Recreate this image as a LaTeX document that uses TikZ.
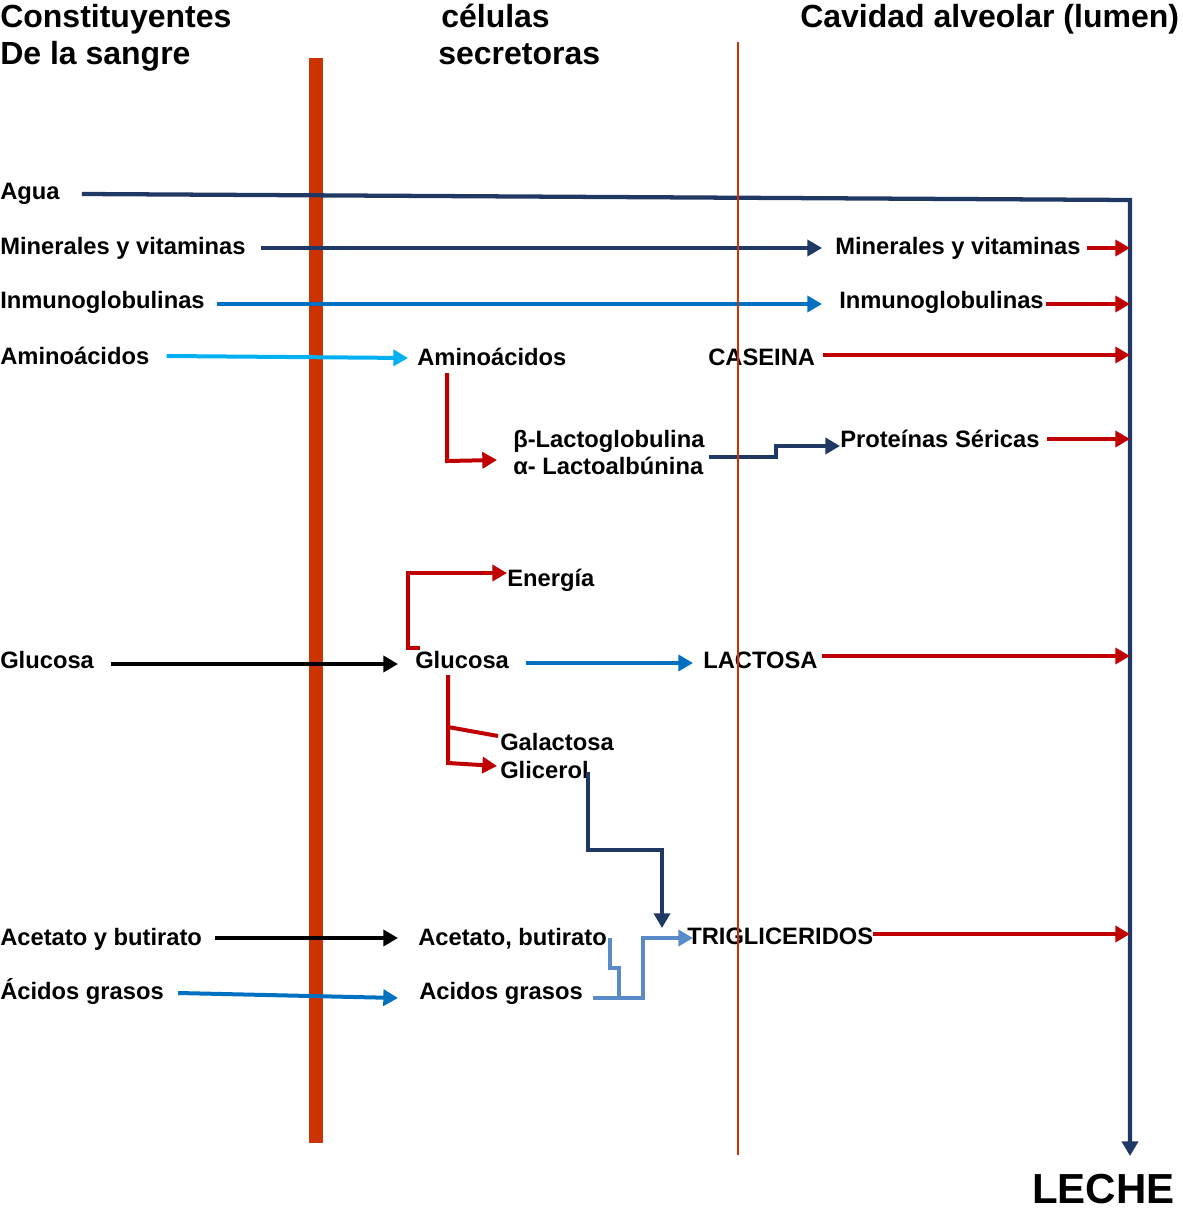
\documentclass[tikz,border=0pt]{standalone}
\usepackage{fontspec}
\setmainfont{Liberation Sans}
\usetikzlibrary{arrows.meta,calc}
\definecolor{navy}{HTML}{1F3864}
\definecolor{mblue}{HTML}{0070C0}
\definecolor{sky}{HTML}{00B0F0}
\definecolor{dred}{HTML}{C00000}
\definecolor{steel}{HTML}{5A8AC8}
\definecolor{membrane}{HTML}{CC3300}
\begin{document}
\begin{tikzpicture}[x=0.75pt,y=-0.75pt,
  lbl/.style={anchor=base west,inner sep=0pt,font=\fontsize{17.8}{20}\selectfont\bfseries},
  ttl/.style={anchor=base west,inner sep=0pt,font=\fontsize{24}{28}\selectfont\bfseries},
  tip/.style={-{Triangle[length=11pt,width=12pt]}},
  flow/.style={line width=3pt,tip},
  link/.style={line width=3pt},
]
\useasboundingbox (0,0) rectangle (1182,1212);

% basal membrane (thick bar)
\fill[membrane] (309,58) rectangle (323,1143);

% column headings
\node[ttl] (hA1) at (0,28) {Constituyentes};
\node[ttl] (hA2) at (0,65) {De la sangre};
\node[ttl] (hB1) at (441,28) {células};
\node[ttl] (hB2) at (438,65) {secretoras};
\node[ttl] (hC)  at (800,28) {Cavidad alveolar (lumen)};

% blood constituents
\node[lbl] (agua) at (0,200)  {Agua};
\node[lbl] (minL) at (0,255)  {Minerales y vitaminas};
\node[lbl] (inmL) at (0,309)  {Inmunoglobulinas};
\node[lbl] (amiL) at (0,364)  {Aminoácidos};
\node[lbl] (gluL) at (0,668)  {Glucosa};
\node[lbl] (aceL) at (0,945)  {Acetato y butirato};
\node[lbl] (acL)  at (0,999)  {Ácidos grasos};

% secretory cell
\node[lbl] (amiM) at (417,365) {Aminoácidos};
\node[lbl] (lac1) at (513,447) {β-Lactoglobulina};
\node[lbl] (lac2) at (513,474) {α- Lactoalbúnina};
\node[lbl] (ener) at (507,586) {Energía};
\node[lbl] (gluM) at (415,668) {Glucosa};
\node[lbl] (gal)  at (500,750) {Galactosa};
\node[lbl] (glic) at (500,778) {Glicerol};
\node[lbl] (aceM) at (418,945) {Acetato, butirato};
\node[lbl] (acM)  at (419,999) {Acidos grasos};

% alveolar lumen
\node[lbl] (minR) at (835,255) {Minerales y vitaminas};
\node[lbl] (inmR) at (839,309) {Inmunoglobulinas};
\node[lbl] (cas)  at (708,365) {CASEINA};
\node[lbl] (prot) at (840,447) {Proteínas Séricas};
\node[lbl] (lact) at (703,668) {LACTOSA};
\node[lbl] (tri)  at (687,944) {TRIGLICERIDOS};
\node[anchor=base west,inner sep=0pt,font=\fontsize{31.5}{36}\selectfont\bfseries] (leche) at (1032,1203) {LECHE};

% collector towards milk
\coordinate (colTop) at (1130,200);
\coordinate (colBot) at (1130,1156);
\draw[navy,line width=3.2pt,tip] ($(agua.base east)+(22,-6)$) -- (colTop) -- (colBot);

% direct passages
\draw[navy,flow]  ($(minL.base east)+(15,-7)$) -- ($(minR.base west)+(-13,-7)$);
\draw[mblue,flow] ($(inmL.base east)+(12,-5)$) -- ($(inmR.base west)+(-17,-5)$);
\draw[sky,flow]   ($(amiL.base east)+(17,-8)$) -- ($(amiM.base west)+(-9,-7)$);
\draw[black,flow] ($(gluL.base east)+(17,-4)$) -- ($(gluM.base west)+(-17,-4)$);
\draw[black,flow] ($(aceL.base east)+(13,-7)$) -- ($(aceM.base west)+(-20,-7)$);
\draw[mblue,flow] ($(acL.base east)+(14,-6)$) -- ($(acM.base west)+(-21,-1)$);

% synthesis inside the cell
\draw[dred,flow] ($(amiM.base west)+(30,8)$) -- ++(0,88) -- ($(lac2.base west)+(-16,-14)$);
\draw[navy,flow] ($(lac2.base east)+(5,-17)$) -- ++(67,0) |- ($(prot.base west)+(0,-1)$);
\draw[dred,flow] ($(gluM.base west)+(5,-20)$) -- ++(-12,0) |- ($(ener.base west)+(0,-13)$);
\draw[mblue,flow] ($(gluM.base east)+(17,-5)$) -- ($(lact.base west)+(-10,-5)$);
\draw[dred,flow] ($(gluM.base west)+(33,7)$) -- ++(0,88) -- ($(glic.base west)+(-3,-12)$);
\draw[dred,link] ($(gluM.base west)+(33,59)$) -- ($(gal.base west)+(-2,-14)$);
\draw[navy,flow] ($(glic.base east)+(-1,-6)$) -- ++(0,78) -| ($(tri.base west)+(-25,-16)$);
\draw[steel,link] ($(aceM.base east)+(3,-7)$) -- ++(0,30) -- ++(9,0) -- ++(0,30);
\draw[steel,flow] ($(acM.base east)+(10,-1)$) -- ++(50,0) |- ($(tri.base west)+(6,-6)$);

% secretion into the lumen
\draw[dred,flow] ($(minR.base east)+(6,-7)$) -- ($(minR.base east -| colTop)+(0,-7)$);
\draw[dred,flow] ($(inmR.base east)+(2,-5)$) -- ($(inmR.base east -| colTop)+(0,-5)$);
\draw[dred,flow] ($(cas.base east)+(8,-10)$) -- ($(cas.base east -| colTop)+(0,-10)$);
\draw[dred,flow] ($(prot.base east)+(7,-8)$) -- ($(prot.base east -| colTop)+(0,-8)$);
\draw[dred,flow] ($(lact.base east)+(4,-12)$) -- ($(lact.base east -| colTop)+(0,-12)$);
\draw[dred,flow] ($(tri.base east)+(0,-10)$) -- ($(tri.base east -| colTop)+(0,-10)$);

% apical membrane (thin line)
\draw[membrane,line width=2.2pt] (738,42) -- (738,1155);
\end{tikzpicture}
\end{document}
